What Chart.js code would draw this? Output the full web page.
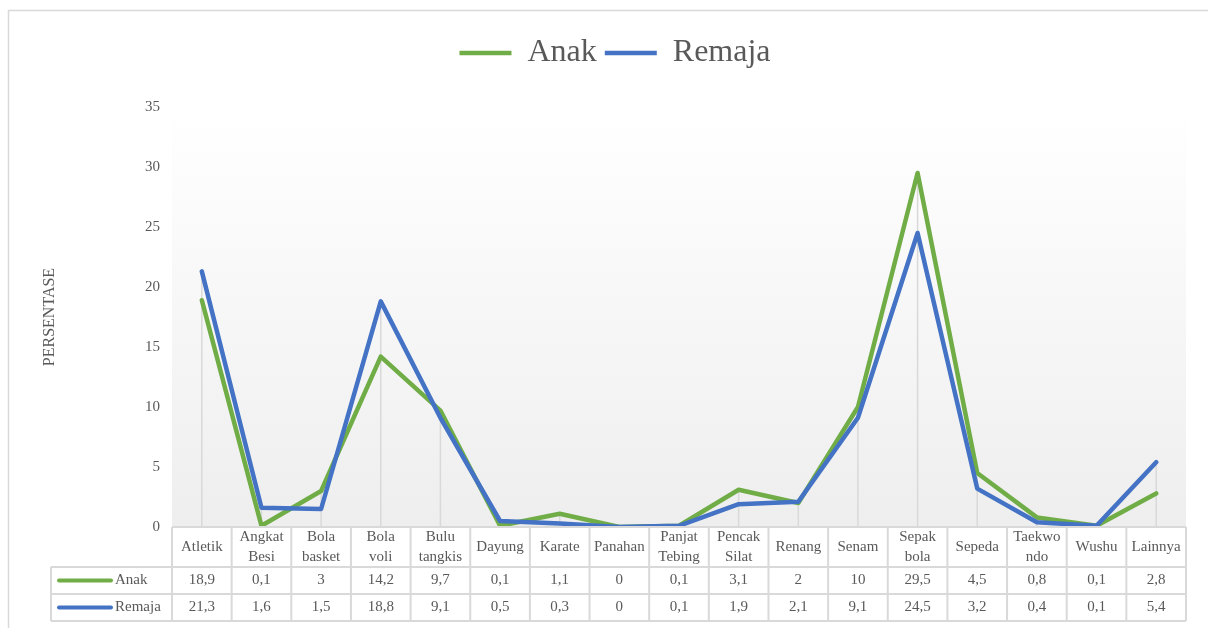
<!DOCTYPE html>
<html>
<head>
<meta charset="utf-8">
<script src="https://cdn.jsdelivr.net/npm/chart.js@4"></script>
<style>
  html, body { margin: 0; padding: 0; background: #fff; }
  #wrap { width: 1208px; height: 628px; position: relative; }
</style>
</head>
<body>
<div id="wrap"><canvas id="grafik" width="1208" height="628"></canvas></div>
<script>
// data olahraga per kelompok umur
const kategori = [['Atletik'], ['Angkat', 'Besi'], ['Bola', 'basket'], ['Bola', 'voli'], ['Bulu', 'tangkis'],
  ['Dayung'], ['Karate'], ['Panahan'], ['Panjat', 'Tebing'], ['Pencak', 'Silat'], ['Renang'], ['Senam'],
  ['Sepak', 'bola'], ['Sepeda'], ['Taekwo', 'ndo'], ['Wushu'], ['Lainnya']];
const anak = [18.9, 0.1, 3, 14.2, 9.7, 0.1, 1.1, 0, 0.1, 3.1, 2, 10, 29.5, 4.5, 0.8, 0.1, 2.8];
const remaja = [21.3, 1.6, 1.5, 18.8, 9.1, 0.5, 0.3, 0, 0.1, 1.9, 2.1, 9.1, 24.5, 3.2, 0.4, 0.1, 5.4];
const yTicks = [0, 5, 10, 15, 20, 25, 30, 35];

const HIJAU = '#70AD47';
const BIRU = '#4472C4';
const ABU = '#595959';
const GARIS = '#d9d9d9';
const FONT = '"Liberation Serif", "Times New Roman", serif';

function koma(v) { return String(v).replace('.', ','); }

// latar gradasi + garis jatuh (drop lines)
const latar = {
  id: 'latar',
  beforeDatasetsDraw(chart) {
    const { ctx, chartArea: a, scales: { x, y } } = chart;
    ctx.save();
    const g = ctx.createLinearGradient(0, a.top, 0, a.bottom);
    g.addColorStop(0, '#ffffff');
    g.addColorStop(1, '#eeeeee');
    ctx.fillStyle = g;
    ctx.fillRect(a.left, a.top, a.right - a.left, a.bottom - a.top);
    ctx.strokeStyle = GARIS;
    ctx.lineWidth = 1.5;
    kategori.forEach((k, i) => {
      const px = x.getPixelForValue(i);
      const top = y.getPixelForValue(Math.max(anak[i], remaja[i]));
      ctx.beginPath();
      ctx.moveTo(px, top);
      ctx.lineTo(px, a.bottom);
      ctx.stroke();
    });
    ctx.restore();
  }
};

// tabel data di bawah grafik
const tabel = {
  id: 'tabel',
  afterDraw(chart) {
    const { ctx, chartArea: a, scales: { x } } = chart;
    const w = x.getPixelForValue(1) - x.getPixelForValue(0);
    const r0 = a.bottom, r1 = r0 + 40, r2 = r1 + 27, r3 = r2 + 27;
    const kiri = 51;
    ctx.save();
    // bingkai luar
    ctx.strokeStyle = GARIS;
    ctx.lineWidth = 1.5;
    ctx.beginPath();
    ctx.moveTo(8.5, 640);
    ctx.lineTo(8.5, 10.5);
    ctx.lineTo(1208, 10.5);
    ctx.stroke();

    ctx.lineWidth = 2;
    ctx.beginPath();
    ctx.moveTo(a.left, r0); ctx.lineTo(a.right, r0);
    [r1, r2, r3].forEach(r => { ctx.moveTo(kiri, r); ctx.lineTo(a.right, r); });
    for (let i = 0; i <= kategori.length; i++) {
      const bx = x.getPixelForValue(0) - w / 2 + i * w;
      ctx.moveTo(bx, r0); ctx.lineTo(bx, r3);
    }
    ctx.moveTo(kiri, r1); ctx.lineTo(kiri, r3);
    ctx.stroke();

    ctx.fillStyle = ABU;
    ctx.font = '15px ' + FONT;
    ctx.textAlign = 'center';
    ctx.textBaseline = 'middle';
    kategori.forEach((k, i) => {
      const px = x.getPixelForValue(i);
      const mid = (r0 + r1) / 2;
      if (k.length === 1) {
        ctx.fillText(k[0], px, mid);
      } else {
        ctx.fillText(k[0], px, mid - 10);
        ctx.fillText(k[1], px, mid + 10);
      }
      ctx.fillText(koma(anak[i]), px, (r1 + r2) / 2);
      ctx.fillText(koma(remaja[i]), px, (r2 + r3) / 2);
    });

    // kunci baris
    [[chart.data.datasets[0], (r1 + r2) / 2], [chart.data.datasets[1], (r2 + r3) / 2]].forEach(([ds, cy]) => {
      ctx.strokeStyle = ds.borderColor;
      ctx.lineWidth = 4;
      ctx.lineCap = 'round';
      ctx.beginPath();
      ctx.moveTo(59, cy); ctx.lineTo(111, cy);
      ctx.stroke();
      ctx.textAlign = 'left';
      ctx.fillText(ds.label, 115, cy);
    });
    ctx.restore();
  }
};

// atur jarak dan posisi legenda
const jarakLegenda = {
  id: 'jarakLegenda',
  beforeInit(chart) {
    const fitAsli = chart.legend.fit;
    chart.legend.fit = function () {
      fitAsli.bind(chart.legend)();
      this.height = 78;
    };
  },
  afterLayout(chart) {
    chart.legend.left += 22;
    chart.legend.right += 22;
  }
};

const ctx = document.getElementById('grafik').getContext('2d');
const grafik = new Chart(ctx, {
  type: 'line',
  data: {
    labels: kategori,
    datasets: [{
      label: 'Anak',
      data: anak,
      borderColor: HIJAU,
      backgroundColor: HIJAU,
      borderWidth: 4.5,
      pointRadius: 0,
      borderJoinStyle: 'round',
      borderCapStyle: 'round',
      order: 2
    }, {
      label: 'Remaja',
      data: remaja,
      borderColor: BIRU,
      backgroundColor: BIRU,
      borderWidth: 4.5,
      pointRadius: 0,
      borderJoinStyle: 'round',
      borderCapStyle: 'round',
      order: 1
    }]
  },
  options: {
    responsive: false,
    animation: false,
    layout: { padding: { top: 29, right: 22, bottom: 101, left: 0 } },
    plugins: {
      tooltip: { enabled: false },
      legend: {
        position: 'top',
        labels: {
          usePointStyle: true,
          pointStyle: 'line',
          pointStyleWidth: 52,
          color: ABU,
          padding: 8,
          font: { family: FONT, size: 32 },
          sort: (a, b) => a.datasetIndex - b.datasetIndex
        }
      }
    },
    scales: {
      x: {
        display: false,
        offset: true
      },
      y: {
        min: 0,
        max: 35,
        afterBuildTicks: s => { s.ticks = yTicks.map(v => ({ value: v })); },
        afterFit: s => { s.width = 172; },
        grid: { display: false },
        border: { display: false },
        ticks: {
          color: ABU,
          padding: 4,
          font: { family: FONT, size: 15 }
        },
        title: {
          display: true,
          text: 'PERSENTASE',
          color: ABU,
          padding: { top: 40, bottom: 0 },
          font: { family: FONT, size: 16 }
        }
      }
    }
  },
  plugins: [latar, tabel, jarakLegenda]
});
</script>
</body>
</html>
